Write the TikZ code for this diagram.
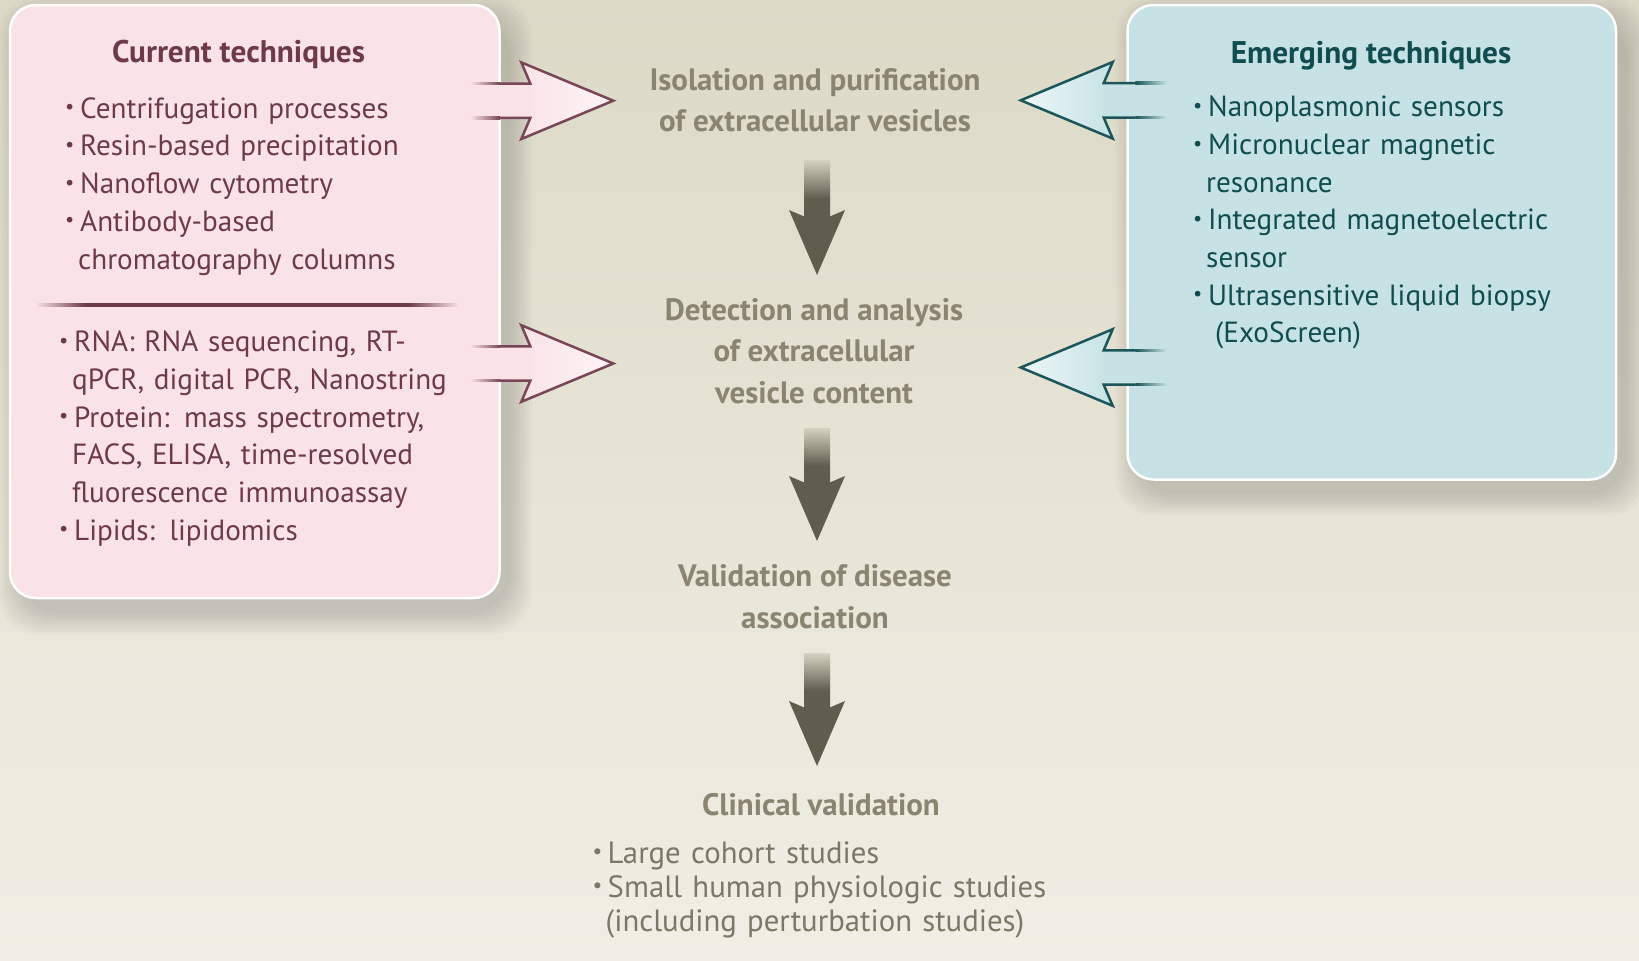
\documentclass[tikz,border=0pt]{standalone}
\usepackage{fontspec}
\setmainfont{PT Sans}
\usepackage{xcolor}
\usepackage{tikz}
\usetikzlibrary{calc, positioning, backgrounds}

\definecolor{bgtop}{RGB}{221,217,199}
\definecolor{bgbot}{RGB}{240,239,229}
\definecolor{pinkbox}{RGB}{250,227,231}
\definecolor{pinkhi}{RGB}{253,243,246}
\definecolor{tealbox}{RGB}{198,226,228}
\definecolor{tealhi}{RGB}{238,247,248}
\definecolor{mauve}{RGB}{110,58,72}
\definecolor{mauveedge}{RGB}{120,70,86}
\definecolor{tealdark}{RGB}{16,76,80}
\definecolor{tealedge}{RGB}{28,86,90}
\definecolor{olive}{RGB}{138,132,112}
\definecolor{olivetext}{RGB}{124,119,102}
\definecolor{arrowdark}{RGB}{96,93,78}
\definecolor{arrowtop}{RGB}{214,210,194}

\pgfdeclareverticalshading{shaftfade}{100bp}{color(0bp)=(arrowdark); color(25bp)=(arrowdark); color(45bp)=(arrowdark); color(75bp)=(arrowtop); color(100bp)=(arrowtop)}
\pgfdeclarehorizontalshading{rulefade}{100bp}{color(0bp)=(pinkbox); color(25bp)=(pinkbox); color(31bp)=(mauve); color(69bp)=(mauve); color(75bp)=(pinkbox); color(100bp)=(pinkbox)}

\newcommand{\dotmark}{\raisebox{0.3ex}{\scalebox{0.7}{\textbullet}}}
\newcommand{\itm}[1]{\hangindent=1.3mm\hangafter=1\noindent\makebox[1.5mm][l]{\dotmark}#1\par}

% block arrow down: tail, tip
\newcommand{\vblock}[2]{%
  \shade[shading=shaftfade] ($(#1)+(-13,0)$) rectangle ($(#2)+(13,-50)$);
  \fill[arrowdark] ($(#2)+(-28,-65)$) -- ($(#2)+(0,-53)$) -- ($(#2)+(28,-65)$) -- (#2) -- cycle;
}
% block arrow sideways: tail, tip, colour set
\newcommand{\hblock}[3]{%
  \coordinate (hn) at ($(#2)!8.3mm!(#1)$);
  \coordinate (hb) at ($(#2)!9.2mm!(#1)$);
  \coordinate (hm) at ($(#1)!0.5!(hn)$);
  \fill[#3 body] ($(#1)+(0,-17.2)$) -- ($(hn)+(0,-17.2)$) -- ($(hb)+(0,-38.3)$) -- (#2)
    -- ($(hb)+(0,38.3)$) -- ($(hn)+(0,17.2)$) -- ($(#1)+(0,17.2)$) -- cycle;
  \shade[#3 head] ($(hn)+(0,-17.2)$) -- ($(hb)+(0,-38.3)$) -- (#2) -- ($(hb)+(0,38.3)$) -- ($(hn)+(0,17.2)$) -- cycle;
  \draw[#3 edge] ($(hm)+(0,-17.2)$) -- ($(hn)+(0,-17.2)$) -- ($(hb)+(0,-38.3)$) -- (#2)
    -- ($(hb)+(0,38.3)$) -- ($(hn)+(0,17.2)$) -- ($(hm)+(0,17.2)$);
  \shade[#3 fade] ($(#1)+(0,-18.4)$) rectangle ($(hm)+(0,-16)$);
  \shade[#3 fade] ($(#1)+(0,16)$) rectangle ($(hm)+(0,18.4)$);
}

\begin{document}
\begin{tikzpicture}[
  x=0.1mm, y=-0.1mm,
  panel/.style={draw=white, line width=0.25mm, rounded corners=2.6mm, inner sep=0pt},
  boxtitle/.style={anchor=base, inner sep=0pt, font=\bfseries\fontsize{8.9}{10}\selectfont},
  boxlist/.style={anchor=base west, inner sep=0pt, text width=46mm, align=left, font=\fontsize{8.3}{10.72}\selectfont},
  stage/.style={anchor=base, inner sep=0pt, align=center, text=olive, font=\bfseries\fontsize{8.8}{11.8}\selectfont},
  cur body/.style={fill=pinkbox},
  cur head/.style={left color=pinkbox, right color=pinkhi},
  cur edge/.style={draw=mauveedge, line width=0.25mm, line join=miter},
  cur fade/.style={left color=pinkbox, right color=mauveedge},
  emg body/.style={fill=tealbox},
  emg head/.style={left color=tealhi, right color=tealbox},
  emg edge/.style={draw=tealedge, line width=0.25mm, line join=miter},
  emg fade/.style={left color=tealedge, right color=tealbox}
]
  \useasboundingbox (0,0) rectangle (1639,960);

  % Panels
  \node[panel, fill=pinkbox, minimum width=48.95mm, minimum height=59.3mm] (cur) at (254.75,301.5) {};
  \node[panel, fill=tealbox, minimum width=48.85mm, minimum height=47.45mm] (emg) at (1371.75,242.25) {};

  \begin{scope}[on background layer]
    \shade[top color=bgtop, bottom color=bgbot] (0,0) rectangle (1639,960);
    \foreach \s in {0,3,...,21} {
      \fill[black, opacity=0.018, rounded corners=4mm] ($(cur.north west)+(10-\s,14-\s)$) rectangle ($(cur.south east)+(10+\s,14+\s)$);
      \fill[black, opacity=0.018, rounded corners=4mm] ($(emg.north west)+(10-\s,14-\s)$) rectangle ($(emg.south east)+(10+\s,14+\s)$);
    }
  \end{scope}

  \shade[shading=rulefade] (35,303.5) rectangle (459,306.5);

  % Current techniques (left)
  \node[boxtitle, text=mauve] (curtitle) at (238.5,62.7) {Current techniques};
  \node[boxlist, text=mauve] (curiso) at (64.5,118.3) {%
    \itm{Centrifugation processes}
    \itm{Resin-based precipitation}
    \itm{Nanoflow cytometry}
    \itm{Antibody-based\newline chromatography columns}};
  \node[boxlist, text=mauve] (curdet) at (58.5,351.7) {%
    \itm{RNA: RNA sequencing, RT-\newline qPCR, digital PCR, Nanostring}
    \itm{Protein: mass spectrometry,\newline FACS, ELISA, time-resolved\newline fluorescence immunoassay}
    \itm{Lipids: lipidomics}};

  % Emerging techniques (right)
  \node[boxtitle, text=tealdark] (emgtitle) at (1371,63.3) {Emerging techniques};
  \node[boxlist, text=tealdark, text width=40mm] (emglist) at (1192.5,116.7) {%
    \itm{Nanoplasmonic sensors}
    \itm{Micronuclear magnetic\newline resonance}
    \itm{Integrated magnetoelectric\newline sensor}
    \itm{Ultrasensitive liquid biopsy\newline\hspace*{0.9mm}(ExoScreen)}};

  % Pipeline (centre), anchored on the last line
  \node[stage] (iso) at (815,131.7) {Isolation and purification\\of extracellular vesicles};
  \node[stage] (det) at (814,403.3) {Detection and analysis\\of extracellular\\vesicle content};
  \node[stage] (val) at (815,628.3) {Validation of disease\\association};
  \node[stage] (clin) at (821,815) {Clinical validation};
  \node[boxlist, text=olivetext, text width=48mm, font=\fontsize{8.75}{9.64}\selectfont] (clinlist) at (592,863.3) {%
    \itm{Large cohort studies}
    \itm{Small human physiologic studies\newline(including perturbation studies)}};

  \coordinate (iso-out) at (817,160);  \coordinate (det-in) at (817,275);
  \coordinate (det-out) at (817,428);  \coordinate (val-in) at (817,541);
  \coordinate (val-out) at (817,653);  \coordinate (clin-in) at (817,766);
  \vblock{iso-out}{det-in}
  \vblock{det-out}{val-in}
  \vblock{val-out}{clin-in}

  \coordinate (curiso-a) at (470,100.7);  \coordinate (iso-l) at (613.3,100.7);
  \coordinate (curdet-a) at (470,363.5);  \coordinate (det-l) at (613.3,363.5);
  \coordinate (emgiso-a) at (1167,100.3); \coordinate (iso-r) at (1020.7,100.3);
  \coordinate (emgdet-a) at (1167,367.5); \coordinate (det-r) at (1020.7,367.5);
  \hblock{curiso-a}{iso-l}{cur}
  \hblock{curdet-a}{det-l}{cur}
  \hblock{emgiso-a}{iso-r}{emg}
  \hblock{emgdet-a}{det-r}{emg}

\end{tikzpicture}
\end{document}
